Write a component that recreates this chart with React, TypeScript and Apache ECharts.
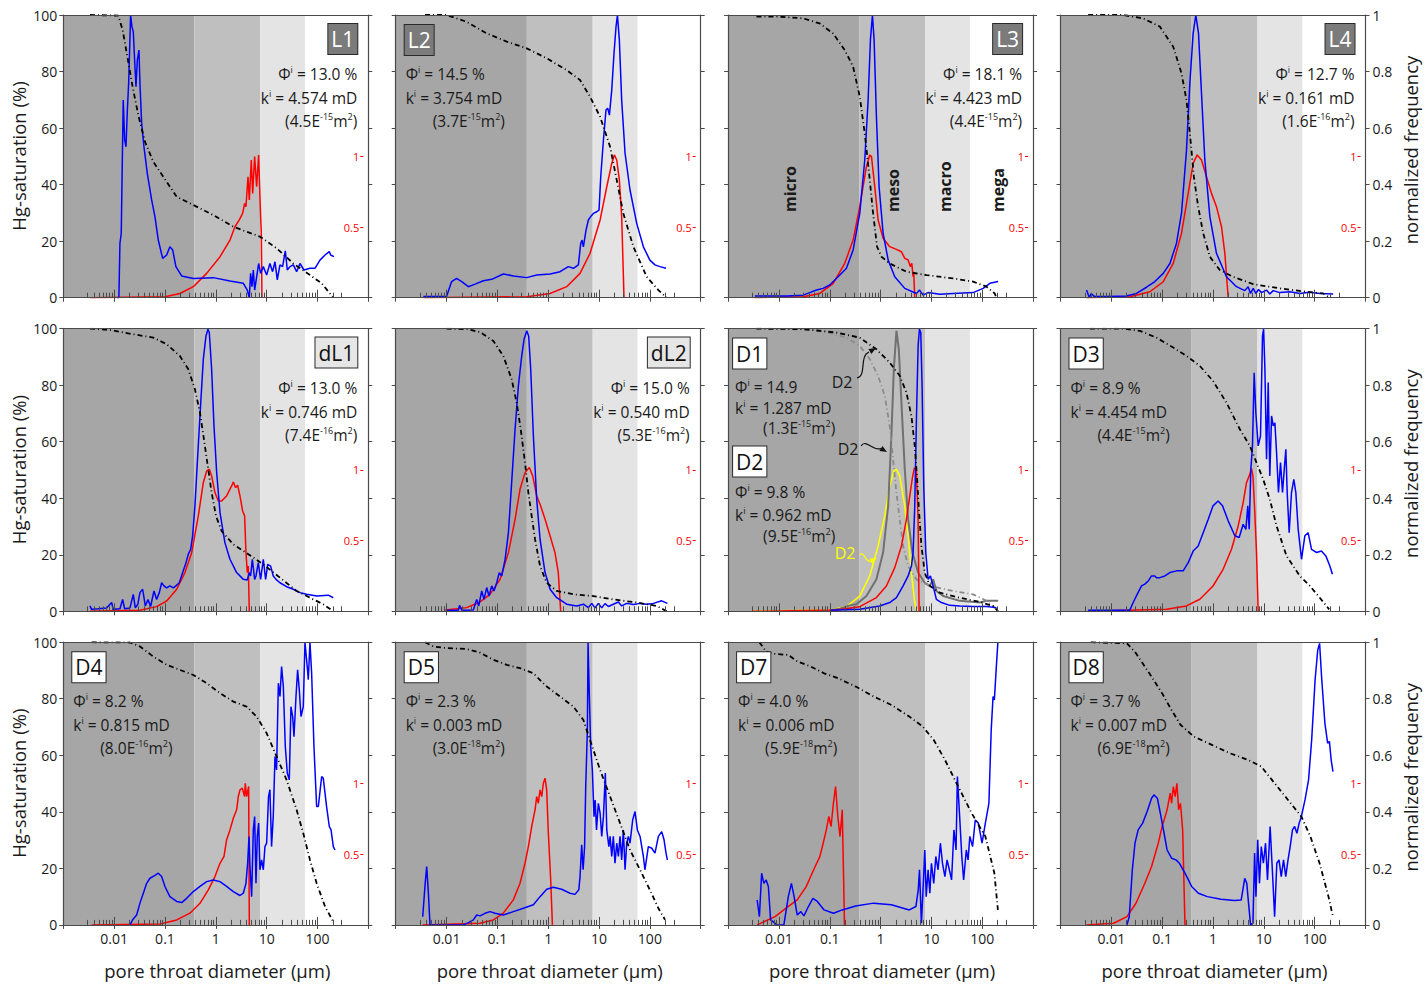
import React, { useEffect, useRef } from 'react';
import * as echarts from 'echarts';

type Pt = [number, number];

const FONT = '"Open Sans", "Noto Sans", "DejaVu Sans", sans-serif';
const AX = '#4a4a4a';
const TXT = '#1a1a1a';

const X_MIN = 0.001;
const X_MAX = 1000;
const X_TICKS = [0.001, 0.01, 0.1, 1, 10, 100, 1000];
const X_LABELS = [0.01, 0.1, 1, 10, 100];
const INNER_MAJOR = [0.01, 0.1, 1, 10, 100];
const INNER_MINOR = [
  0.003, 0.004, 0.005, 0.006, 0.007, 0.008, 0.009,
  0.02, 0.03, 0.04, 0.05, 0.06, 0.07, 0.08, 0.09,
  0.2, 0.3, 0.4, 0.5, 0.6, 0.7, 0.8, 0.9,
  2, 3, 4, 5, 6, 7, 8, 9,
  20, 30, 40, 50, 60, 70, 80, 90,
  200, 300,
];
const RED_TICKS = [0.5, 1];

const BAND_EDGES = [0.001, 0.38, 7.5, 57];
const BAND_COLORS = ['#a6a6a6', '#bfbfbf', '#e4e4e4'];
const ZONE_NAMES = ['micro', 'meso', 'macro', 'mega'];

// ---------- L1 ----------
const L1_HG: Pt[] = [[0.00335,100],[0.0121,99.8],[0.0147,94.7],[0.0182,85.3],[0.0231,74.6],[0.0299,64.6],[0.0404,55.2],[0.0589,48.1],[0.0927,42.8],[0.17,35.7],[0.361,32.8],[0.893,29.2],[2.21,25.1],[7.39,21.6],[15.7,17.5],[33.5,12.1],[71.2,8.0],[121,5.1],[205,0]];
const L1_FREQ: Pt[] = [[0.0115,0],[0.0124,0],[0.013,0.192],[0.0138,0.228],[0.0151,0.699],[0.0161,0.558],[0.0171,0.534],[0.0182,0.664],[0.0193,0.758],[0.0211,1.0],[0.0224,0.959],[0.0238,0.941],[0.0253,0.841],[0.0269,0.746],[0.0286,0.841],[0.0308,0.876],[0.0322,0.758],[0.0348,0.617],[0.0386,0.534],[0.0449,0.44],[0.0547,0.346],[0.0635,0.287],[0.0739,0.204],[0.09,0.139],[0.108,0.151],[0.125,0.18],[0.142,0.169],[0.164,0.11],[0.213,0.077],[0.361,0.068],[0.893,0.071],[1.9,0.059],[3.48,0.051],[4.17,0.027],[4.56,0],[4.84,0.086],[5.14,0.039],[5.47,0.098],[5.81,0.027],[6.36,0.074],[6.96,0.121],[7.62,0.086],[8.6,0.11],[10,0.08],[11.6,0.121],[13.1,0.092],[14.6,0.127],[16.2,0.063],[18.3,0.116],[20.6,0.11],[23.3,0.166],[25.5,0.098],[28.8,0.11],[33.5,0.116],[38.9,0.092],[45.3,0.121],[54.2,0.098],[71.2,0.104],[89.3,0.104],[112,0.133],[141,0.151],[171,0.163],[182,0.151],[211,0.145]];
const L1_RED: Pt[] = [[0.00335,0],[0.1,0.007],[0.197,0.03],[0.361,0.078],[0.661,0.172],[1.21,0.29],[1.9,0.408],[2.38,0.502],[2.9,0.55],[3.37,0.597],[3.69,0.667],[3.92,0.644],[4.3,0.856],[4.56,0.691],[4.99,0.974],[5.31,0.738],[5.81,0.998],[6.36,0.785],[6.96,1.01],[7.28,0.785],[7.62,0.573],[7.86,0.455],[8.09,0]];

// ---------- L2 ----------
const L2_HG: Pt[] = [[0.00378,100],[0.01,100],[0.0249,97.6],[0.0617,93.5],[0.153,90.6],[0.378,88.2],[0.933,84.7],[2.31,80.5],[4.23,77],[6.65,71.1],[10.5,64],[16.5,53.4],[22.3,41.6],[30.1,29.8],[47.4,18],[86.7,7.4],[147,2.7],[214,0]];
const L2_FREQ: Pt[] = [[0.0035,0.004],[0.01,0.004],[0.0126,0.057],[0.0158,0.068],[0.0199,0.057],[0.0269,0.039],[0.0364,0.048],[0.0531,0.06],[0.0774,0.065],[0.131,0.084],[0.206,0.077],[0.378,0.071],[0.594,0.08],[1.09,0.084],[1.71,0.092],[2.49,0.11],[3.13,0.104],[3.92,0.116],[4.36,0.192],[4.63,0.204],[4.92,0.18],[5.55,0.239],[6.17,0.275],[6.85,0.287],[7.74,0.298],[9.0,0.304],[10,0.31],[10.8,0.428],[12.2,0.558],[13.7,0.664],[14.8,0.67],[16.0,0.646],[17.8,0.735],[19.7,0.864],[21.6,0.959],[23.0,1.0],[25.1,0.912],[27.9,0.699],[32.5,0.511],[40.7,0.381],[55.1,0.263],[74.5,0.18],[100,0.133],[126,0.116],[158,0.11],[208,0.104]];
const L2_RED: Pt[] = [[0.0035,0],[0.378,0.007],[1.09,0.03],[2.31,0.078],[4.23,0.172],[6.65,0.314],[10.5,0.55],[14.2,0.785],[17.8,0.95],[20.0,1.01],[22.3,0.974],[25.1,0.833],[27.9,0.573],[31.0,0]];

// ---------- L3 ----------
const L3_HG: Pt[] = [[0.00361,99.4],[0.0104,99.4],[0.0299,98.8],[0.0635,97],[0.116,93.5],[0.197,87.6],[0.288,81.7],[0.389,71.1],[0.488,58.1],[0.594,44],[0.712,29.8],[0.853,18],[1.04,14.5],[1.51,12.1],[3.22,9.2],[7.97,8],[26.7,6.8],[66.1,5.7],[121,3.9],[176,1.5],[190,0]];
const L3_FREQ: Pt[] = [[0.00335,0.006],[0.0141,0.006],[0.0299,0.009],[0.0404,0.018],[0.0547,0.027],[0.0739,0.033],[0.1,0.045],[0.146,0.074],[0.213,0.104],[0.288,0.169],[0.389,0.298],[0.488,0.487],[0.568,0.699],[0.631,0.912],[0.691,1.0],[0.745,0.912],[0.828,0.64],[0.934,0.393],[1.12,0.228],[1.41,0.133],[1.9,0.074],[2.99,0.033],[5.07,0.015],[5.85,0.027],[6.85,0.009],[8.6,0.018],[14.6,0.012],[26.7,0.015],[66.1,0.018],[104,0.033],[141,0.051],[205,0.057]];
const L3_RED: Pt[] = [[0.00335,0],[0.0299,0.007],[0.0635,0.03],[0.116,0.1],[0.197,0.243],[0.288,0.408],[0.389,0.644],[0.526,0.927],[0.612,1.01],[0.662,0.998],[0.768,0.785],[0.893,0.55],[1.12,0.42],[1.51,0.361],[2.05,0.342],[2.57,0.325],[2.99,0.278],[3.48,0.267],[3.86,0.219],[4.11,0.243],[4.36,0.149],[4.49,0.172],[4.7,0]];

// ---------- L4 ----------
const L4_HG: Pt[] = [[0.0035,100],[0.0171,100],[0.0423,98.8],[0.09,95.9],[0.165,88.8],[0.24,79.4],[0.301,69.9],[0.361,55.8],[0.42,42.8],[0.511,32.2],[0.641,22.8],[0.867,14.5],[1.36,9.8],[2.49,7.4],[6.17,4.8],[20.6,3.3],[69,2.1],[147,1.5],[199,0]];
const L4_FREQ: Pt[] = [[0.00325,0.027],[0.0037,0],[0.004,0.015],[0.0047,0.004],[0.0079,0.004],[0.0199,0.006],[0.0313,0.015],[0.0492,0.037],[0.0718,0.057],[0.105,0.086],[0.142,0.121],[0.191,0.192],[0.24,0.298],[0.301,0.522],[0.35,0.758],[0.407,0.935],[0.459,1.0],[0.519,0.935],[0.594,0.723],[0.691,0.487],[0.867,0.287],[1.17,0.157],[1.84,0.074],[2.9,0.039],[4.23,0.025],[4.92,0.039],[5.47,0.015],[6.17,0.033],[6.96,0.015],[7.86,0.029],[9.0,0.018],[11.3,0.027],[13.1,0.013],[15.3,0.025],[20.6,0.018],[32.5,0.021],[51.1,0.015],[80.3,0.019],[126,0.015],[231,0.013]];
const L4_RED: Pt[] = [[0.00325,0],[0.0233,0.007],[0.0572,0.042],[0.105,0.113],[0.165,0.243],[0.24,0.455],[0.325,0.738],[0.407,0.95],[0.488,1.01],[0.594,0.974],[0.745,0.856],[0.934,0.738],[1.17,0.644],[1.47,0.502],[1.71,0.314],[1.99,0]];

// ---------- dL1 ----------
const DL1_HG: Pt[] = [[0.00335,100],[0.00828,99.5],[0.0238,98],[0.0589,96.8],[0.108,94.5],[0.197,90.3],[0.288,85.6],[0.389,78.5],[0.488,70.3],[0.585,60.8],[0.68,52.6],[0.828,42],[1.01,33.7],[1.3,28.4],[2.21,23.7],[4.36,20.2],[8.6,16.6],[18.3,11.9],[38.9,7.2],[82.8,4.2],[130,2.5],[205,0]];
const DL1_FREQ: Pt[] = [[0.00335,0.019],[0.0036,0.007],[0.00488,0.009],[0.0071,0.012],[0.00893,0.031],[0.0096,0.007],[0.013,0.009],[0.0147,0.042],[0.0161,0.009],[0.0205,0.012],[0.0238,0.06],[0.0261,0.012],[0.0293,0.025],[0.0322,0.066],[0.0364,0.078],[0.041,0.019],[0.0463,0.042],[0.0522,0.017],[0.0608,0.072],[0.0686,0.042],[0.0774,0.066],[0.086,0.101],[0.0955,0.09],[0.108,0.083],[0.125,0.09],[0.146,0.083],[0.164,0.09],[0.191,0.101],[0.223,0.137],[0.259,0.172],[0.288,0.202],[0.32,0.219],[0.35,0.267],[0.389,0.373],[0.433,0.526],[0.488,0.691],[0.568,0.892],[0.641,0.974],[0.702,0.998],[0.745,0.986],[0.828,0.856],[0.921,0.656],[1.04,0.491],[1.21,0.349],[1.51,0.243],[1.9,0.184],[2.57,0.137],[3.48,0.113],[4.17,0.111],[4.56,0.137],[4.84,0.125],[5.23,0.184],[5.81,0.113],[6.17,0.125],[6.85,0.172],[7.62,0.113],[8.6,0.184],[9.55,0.113],[10.5,0.166],[12.0,0.16],[13.5,0.125],[15.3,0.113],[18.3,0.101],[24.7,0.087],[33.5,0.078],[45.3,0.066],[61.2,0.06],[96.3,0.054],[163,0.057],[205,0.048]];
const DL1_RED: Pt[] = [[0.00335,0],[0.0322,0.007],[0.0686,0.033],[0.108,0.073],[0.17,0.156],[0.247,0.274],[0.335,0.415],[0.453,0.675],[0.568,0.91],[0.661,0.993],[0.745,1.005],[0.828,0.958],[0.963,0.84],[1.12,0.78],[1.3,0.78],[1.63,0.816],[2.05,0.887],[2.21,0.915],[2.45,0.875],[2.69,0.892],[2.99,0.816],[3.37,0.71],[3.69,0.675],[3.92,0.415],[4.17,0.274],[4.36,0.321],[4.56,0]];

// ---------- dL2 ----------
const DL2_HG: Pt[] = [[0.01,100],[0.0249,99.8],[0.0456,98.8],[0.0834,95.6],[0.131,90.3],[0.191,82.1],[0.24,73.8],[0.288,64.4],[0.35,52.6],[0.407,42],[0.473,33.7],[0.551,25.5],[0.691,16],[0.934,10.1],[1.47,7.2],[3.13,6],[7.74,5.4],[19.1,4.2],[55.1,3.1],[136,1.9],[214,0]];
const DL2_FREQ: Pt[] = [[0.01,0.004],[0.0171,0.004],[0.018,0.021],[0.02,0.004],[0.0337,0.005],[0.0392,0.042],[0.043,0.019],[0.0492,0.072],[0.0546,0.042],[0.0617,0.084],[0.0685,0.054],[0.0774,0.09],[0.0858,0.072],[0.097,0.101],[0.109,0.137],[0.122,0.125],[0.142,0.184],[0.165,0.278],[0.191,0.455],[0.223,0.644],[0.259,0.797],[0.301,0.903],[0.335,0.962],[0.378,0.992],[0.413,0.974],[0.453,0.856],[0.511,0.62],[0.594,0.396],[0.691,0.255],[0.867,0.137],[1.09,0.078],[1.47,0.048],[2.31,0.025],[3.64,0.019],[4.92,0.025],[6.17,0.013],[7.18,0.028],[8.34,0.012],[9.7,0.028],[11.3,0.012],[13.1,0.027],[15.3,0.017],[19.1,0.025],[24,0.033],[27.9,0.019],[35,0.028],[47.4,0.024],[64.1,0.028],[86.7,0.025],[117,0.028],[171,0.037],[221,0.028]];
const DL2_RED: Pt[] = [[0.0094,0.01],[0.0249,0.026],[0.0456,0.066],[0.0718,0.12],[0.113,0.226],[0.165,0.415],[0.223,0.651],[0.279,0.863],[0.35,0.981],[0.426,1.017],[0.495,0.958],[0.594,0.816],[0.712,0.745],[0.867,0.651],[1.09,0.533],[1.36,0.415],[1.58,0.274],[1.76,0]];

// ---------- D1 (and D2 overlay) ----------
const D1_HG: Pt[] = [[0.00361,100],[0.0299,99.8],[0.135,98.6],[0.389,96.8],[0.828,92.7],[1.51,88],[2.38,83.3],[3.22,77.4],[4.04,69.1],[4.7,58.5],[5.23,46.7],[5.72,34.9],[6.36,23.1],[7.39,13.7],[9.27,9],[14.6,6.6],[36.1,4.8],[89.3,3.3],[163,1.9],[205,0]];
const D1_FREQ: Pt[] = [[0.1,0.004],[0.389,0.007],[0.963,0.019],[1.51,0.031],[2.05,0.048],[2.77,0.09],[3.48,0.125],[4.04,0.16],[4.36,0.208],[4.7,0.373],[5.07,0.679],[5.47,0.939],[5.81,0.998],[6.17,0.986],[6.55,0.797],[7.06,0.443],[7.74,0.208],[8.6,0.113],[9.55,0.125],[10.8,0.09],[12.5,0.042],[15.7,0.031],[23,0.021],[36.1,0.019],[66.1,0.017],[121,0.017],[190,0.013]];
const D1_RED: Pt[] = [[0.0031,0],[0.135,0.009],[0.389,0.033],[0.828,0.097],[1.3,0.179],[1.9,0.309],[2.57,0.462],[3.22,0.651],[3.75,0.816],[4.23,0.946],[4.63,1.017],[5.07,0.993],[5.47,0.651],[5.72,0]];
const D2_HG: Pt[] = [[0.00361,100],[0.0635,99.5],[0.213,96.8],[0.389,93.9],[0.612,89.2],[0.893,83.3],[1.21,76.2],[1.51,65.6],[1.76,53.8],[2.05,42],[2.38,32.5],[2.77,23.1],[3.48,16],[5.07,11.3],[9.27,9],[26.7,7.2],[66.1,6],[121,3.7],[190,0.7]];
const D2_FREQ: Pt[] = [[0.1,0.004],[0.157,0.009],[0.247,0.021],[0.335,0.025],[0.526,0.054],[0.828,0.113],[1.12,0.208],[1.41,0.373],[1.63,0.62],[1.82,0.856],[2.05,0.992],[2.28,0.927],[2.57,0.738],[2.99,0.502],[3.48,0.325],[4.23,0.208],[5.47,0.137],[7.39,0.101],[9.27,0.09],[10.8,0.113],[12.5,0.072],[17,0.054],[36.1,0.037],[89.3,0.031],[121,0.037],[205,0.037]];
const D2_RED: Pt[] = [[0.0031,0],[0.1,0.009],[0.213,0.033],[0.389,0.108],[0.612,0.25],[0.893,0.462],[1.21,0.675],[1.51,0.887],[1.82,0.993],[2.05,1.005],[2.38,0.958],[2.99,0.745],[3.48,0.533],[4.04,0.274],[4.7,0.061],[5.23,0]];

// ---------- D3 ----------
const D3_HG: Pt[] = [[0.00378,100],[0.0171,100],[0.0364,99.2],[0.0774,96.8],[0.165,93.3],[0.301,90.3],[0.551,86.8],[1.0,81.5],[1.84,73.8],[3.37,64.4],[5.31,58.5],[7.18,52.6],[9.7,46.7],[13.1,39.6],[17.8,30.2],[27.9,19.6],[51.1,12.5],[80.3,9],[126,4.8],[193,0.7]];
const D3_FREQ: Pt[] = [[0.0035,0.004],[0.0231,0.004],[0.0269,0.031],[0.0322,0.06],[0.0392,0.09],[0.0456,0.096],[0.0531,0.107],[0.0617,0.125],[0.0718,0.125],[0.0774,0.119],[0.09,0.119],[0.113,0.125],[0.142,0.137],[0.191,0.143],[0.259,0.143],[0.325,0.172],[0.407,0.213],[0.511,0.231],[0.641,0.278],[0.803,0.325],[1.0,0.373],[1.26,0.39],[1.54,0.373],[1.99,0.32],[2.69,0.267],[3.27,0.261],[3.92,0.308],[4.43,0.29],[4.84,0.373],[5.15,0.29],[5.55,0.502],[5.98,0.585],[6.45,0.844],[6.96,0.703],[7.74,0.585],[8.6,0.62],[9.41,0.974],[9.9,0.998],[10.5,0.856],[11.3,0.538],[12.2,0.809],[13.1,0.479],[14.2,0.691],[15.3,0.656],[16.5,0.667],[17.8,0.561],[19.4,0.42],[21.3,0.526],[23.3,0.42],[25.5,0.514],[27.1,0.573],[28.8,0.42],[31.5,0.278],[35,0.42],[38.9,0.467],[42.6,0.42],[47.4,0.29],[55.1,0.184],[64.1,0.267],[74.5,0.278],[86.7,0.219],[109,0.208],[136,0.213],[166,0.196],[199,0.16],[224,0.131]];
const D3_RED: Pt[] = [[0.0035,0],[0.122,0.014],[0.301,0.038],[0.551,0.085],[1.0,0.179],[1.58,0.297],[2.31,0.439],[3.13,0.604],[3.92,0.769],[4.56,0.91],[5.15,0.958],[5.72,1.01],[6.1,0.958],[6.55,0.745],[7.18,0.415],[7.74,0]];

// ---------- D4 ----------
const D4_HG: Pt[] = [[0.00361,100],[0.0205,99.9],[0.0322,98.5],[0.0589,94.9],[0.108,92],[0.197,90.2],[0.361,88.4],[0.661,85.5],[1.21,82],[2.21,79],[4.04,77.2],[6.36,73.7],[10,67.8],[15.7,59.6],[24.7,51.3],[38.9,40.7],[52.6,32.4],[71.2,23],[96.3,14.7],[141,6.5],[205,1.1]];
const D4_FREQ: Pt[] = [[0.0205,0],[0.0231,0.018],[0.0277,0.035],[0.0322,0.077],[0.0375,0.112],[0.0436,0.147],[0.0507,0.165],[0.0635,0.175],[0.0739,0.183],[0.086,0.171],[0.1,0.136],[0.125,0.1],[0.17,0.083],[0.213,0.079],[0.267,0.094],[0.361,0.118],[0.488,0.136],[0.661,0.153],[0.893,0.159],[1.21,0.153],[1.63,0.136],[2.21,0.118],[2.99,0.104],[3.48,0.112],[3.92,0.147],[4.23,0.218],[4.5,0.313],[4.7,0.206],[5.07,0.1],[5.47,0.336],[5.81,0.383],[6.17,0.147],[6.55,0.313],[6.96,0.36],[7.39,0.195],[7.97,0.23],[8.6,0.195],[9.27,0.277],[10,0.289],[10.9,0.454],[11.6,0.478],[12.5,0.277],[13.5,0.383],[14.6,0.596],[15.7,0.548],[17,0.855],[18.3,0.808],[19.7,0.914],[21.3,0.843],[23.3,0.631],[25.5,0.537],[27.9,0.513],[30.1,0.772],[32.5,0.737],[34.5,0.666],[37.8,0.808],[40.7,0.902],[43.9,0.831],[47.4,0.737],[52.6,0.772],[56.8,1.0],[61.2,0.937],[66,0.867],[71.2,1.0],[76.8,0.89],[85.3,0.631],[96.3,0.419],[104,0.419],[121,0.525],[130,0.519],[151,0.419],[171,0.348],[185,0.336],[205,0.277],[221,0.265]];
const D4_RED: Pt[] = [[0.00361,0],[0.08,0.007],[0.17,0.035],[0.31,0.083],[0.488,0.153],[0.712,0.248],[0.963,0.342],[1.21,0.436],[1.45,0.484],[1.63,0.601],[1.9,0.672],[2.21,0.755],[2.57,0.814],[2.77,0.908],[2.99,0.955],[3.32,0.967],[3.69,0.908],[3.8,1.002],[4.04,0.908],[4.43,0.979],[4.56,0]];

// ---------- D5 ----------
const D5_HG: Pt[] = [[0.00378,100],[0.0055,98.5],[0.01,97.9],[0.0249,97.6],[0.0456,96.3],[0.0834,93.8],[0.153,92],[0.279,90.8],[0.511,89],[0.934,84.3],[1.71,80.8],[3.13,77.2],[4.92,72.5],[6.65,65.4],[10.5,54.8],[16.5,45.4],[25.9,36],[40.7,26.5],[64.1,19.5],[100,12.4],[147,5.9],[199,1.8]];
const D5_FREQ: Pt[] = [[0.0034,0.029],[0.0038,0.147],[0.00407,0.206],[0.0044,0.112],[0.00473,0],[0.0214,0],[0.027,0.008],[0.0337,0.018],[0.0392,0.035],[0.0456,0.032],[0.0572,0.041],[0.0718,0.047],[0.09,0.041],[0.131,0.035],[0.206,0.047],[0.325,0.059],[0.511,0.071],[0.691,0.1],[0.934,0.126],[1.26,0.133],[1.84,0.126],[2.69,0.112],[3.37,0.108],[4.0,0.124],[4.23,0.171],[4.56,0.283],[4.86,0.195],[5.2,0.277],[5.47,0.489],[5.9,0.69],[6.08,1.0],[6.45,0.808],[6.85,0.631],[7.39,0.548],[7.97,0.383],[8.4,0.442],[8.92,0.336],[9.7,0.43],[10.5,0.395],[11.3,0.313],[12.2,0.383],[13.3,0.537],[14.2,0.336],[15.6,0.277],[16.5,0.313],[17.8,0.242],[19.1,0.313],[20.6,0.218],[22.3,0.289],[24,0.242],[25.9,0.313],[27.9,0.23],[30.1,0.336],[32.5,0.195],[35,0.289],[37.8,0.313],[40.7,0.289],[45.9,0.371],[51.1,0.401],[56.8,0.336],[64.1,0.313],[74.5,0.242],[80,0.195],[93.3,0.277],[109,0.271],[126,0.254],[147,0.313],[171,0.33],[190,0.301],[208,0.254],[221,0.23]];
const D5_RED: Pt[] = [[0.0034,0],[0.0456,0.012],[0.0834,0.035],[0.131,0.083],[0.206,0.177],[0.279,0.295],[0.35,0.436],[0.407,0.554],[0.473,0.696],[0.551,0.814],[0.594,0.908],[0.64,0.861],[0.691,0.955],[0.745,0.908],[0.803,1.002],[0.867,1.038],[0.934,0.955],[1.0,0.672],[1.12,0.318],[1.21,0]];

// ---------- D7 ----------
const D7_HG: Pt[] = [[0.00413,100],[0.0056,96.7],[0.00757,95.9],[0.0153,95.5],[0.0229,93.2],[0.0421,91.4],[0.0773,89],[0.144,87.3],[0.324,84.3],[0.728,80.8],[1.63,77.8],[3.66,73.7],[6.71,70.2],[11.1,65.4],[18.4,58.4],[33.7,48.9],[61.9,39.5],[115,31.3],[173,18.3],[203,5.3]];
const D7_FREQ: Pt[] = [[0.00373,0.088],[0.00413,0.029],[0.00457,0.183],[0.00505,0.147],[0.0056,0.159],[0.0062,0.136],[0.00685,0.018],[0.0092,0],[0.0125,0],[0.0153,0.1],[0.0176,0.147],[0.0199,0.1],[0.0229,0.035],[0.027,0.047],[0.031,0.032],[0.038,0.065],[0.0466,0.094],[0.057,0.083],[0.0773,0.053],[0.118,0.041],[0.176,0.053],[0.324,0.067],[0.728,0.077],[1.63,0.071],[3.66,0.053],[4.95,0.065],[5.5,0.124],[5.82,0.195],[6.35,0.006],[6.98,0.159],[7.4,0.265],[7.89,0.1],[8.6,0.195],[9.3,0.112],[10,0.218],[11.1,0.147],[12.2,0.242],[13.5,0.195],[15,0.289],[16.5,0.218],[18.4,0.171],[20.3,0.23],[22.5,0.195],[24.9,0.159],[27.7,0.336],[30.5,0.265],[32.4,0.525],[35.9,0.383],[39.6,0.242],[43,0.159],[48.5,0.265],[52.5,0.23],[57,0.313],[64.5,0.277],[72.8,0.371],[83.8,0.36],[99,0.289],[115,0.36],[135,0.43],[150,0.69],[163,0.808],[173,0.796],[191,0.926],[203,1.0]];
const D7_RED: Pt[] = [[0.00373,0],[0.0084,0.059],[0.0138,0.118],[0.0229,0.177],[0.0344,0.271],[0.0421,0.342],[0.0516,0.413],[0.0637,0.483],[0.0743,0.578],[0.0855,0.672],[0.0961,0.767],[0.106,0.696],[0.118,0.861],[0.13,0.979],[0.144,0.767],[0.159,0.625],[0.176,0.814],[0.195,0]];

// ---------- D8 ----------
const D8_HG: Pt[] = [[0.00396,100],[0.0203,99.6],[0.0305,96.1],[0.056,89],[0.1,81.9],[0.153,76],[0.229,70.8],[0.421,66.6],[0.946,63.7],[2.16,60.7],[4.85,58.4],[8.91,56],[16.3,50.1],[29.9,44.2],[54.8,38.3],[82.2,31.3],[125,21.8],[187,10],[229,2.9]];
const D8_FREQ: Pt[] = [[0.0203,0],[0.0225,0.029],[0.0259,0.195],[0.0292,0.289],[0.0337,0.336],[0.0413,0.36],[0.0506,0.401],[0.0619,0.448],[0.0687,0.46],[0.0805,0.448],[0.092,0.395],[0.106,0.336],[0.125,0.265],[0.153,0.236],[0.187,0.23],[0.219,0.218],[0.281,0.183],[0.38,0.136],[0.516,0.112],[0.773,0.1],[1.44,0.091],[2.64,0.086],[3.58,0.088],[4.21,0.165],[4.62,0.147],[5.0,0.077],[5.48,0],[6.1,0.006],[6.58,0.254],[7.0,0.1],[7.58,0.301],[8.2,0.147],[8.91,0.277],[9.8,0.218],[10.8,0.289],[11.8,0.159],[13.3,0.348],[14.7,0.195],[16.3,0.029],[18,0.218],[19.9,0.23],[22,0.171],[24.4,0.23],[27,0.171],[29.9,0.23],[33,0.277],[36.6,0.336],[40.4,0.348],[44.7,0.324],[49.5,0.36],[54.8,0.383],[64.5,0.442],[75.8,0.513],[87.3,0.654],[102,0.867],[115,0.973],[125,0.996],[138,0.867],[159,0.713],[180,0.643],[195,0.649],[211,0.584],[229,0.542]];
const D8_RED: Pt[] = [[0.00324,0],[0.0111,0.012],[0.0203,0.059],[0.0305,0.153],[0.0457,0.295],[0.0619,0.413],[0.0838,0.578],[0.1,0.696],[0.125,0.814],[0.144,0.932],[0.153,0.861],[0.166,0.979],[0.18,0.908],[0.195,1.002],[0.211,0.814],[0.229,0.861],[0.253,0.672],[0.281,0]];

// ---------- panel annotations ----------
type Panel = {
  tag: string; tagKind: 'dark' | 'light' | 'white'; side: 'left' | 'right';
  phi: string; k: string; mant: string; exp: string;
  hg: Pt[]; freq: Pt[]; red: Pt[];
};

const PANELS: Panel[] = [
  { tag: 'L1', tagKind: 'dark', side: 'right', phi: '13.0 %', k: '4.574 mD', mant: '4.5', exp: '-15', hg: L1_HG, freq: L1_FREQ, red: L1_RED },
  { tag: 'L2', tagKind: 'dark', side: 'left', phi: '14.5 %', k: '3.754 mD', mant: '3.7', exp: '-15', hg: L2_HG, freq: L2_FREQ, red: L2_RED },
  { tag: 'L3', tagKind: 'dark', side: 'right', phi: '18.1 %', k: '4.423 mD', mant: '4.4', exp: '-15', hg: L3_HG, freq: L3_FREQ, red: L3_RED },
  { tag: 'L4', tagKind: 'dark', side: 'right', phi: '12.7 %', k: '0.161 mD', mant: '1.6', exp: '-16', hg: L4_HG, freq: L4_FREQ, red: L4_RED },
  { tag: 'dL1', tagKind: 'light', side: 'right', phi: '13.0 %', k: '0.746 mD', mant: '7.4', exp: '-16', hg: DL1_HG, freq: DL1_FREQ, red: DL1_RED },
  { tag: 'dL2', tagKind: 'light', side: 'right', phi: '15.0 %', k: '0.540 mD', mant: '5.3', exp: '-16', hg: DL2_HG, freq: DL2_FREQ, red: DL2_RED },
  { tag: 'D1', tagKind: 'white', side: 'left', phi: '14.9', k: '1.287 mD', mant: '1.3', exp: '-15', hg: D1_HG, freq: D1_FREQ, red: D1_RED },
  { tag: 'D3', tagKind: 'white', side: 'left', phi: '8.9 %', k: '4.454 mD', mant: '4.4', exp: '-15', hg: D3_HG, freq: D3_FREQ, red: D3_RED },
  { tag: 'D4', tagKind: 'white', side: 'left', phi: '8.2 %', k: '0.815 mD', mant: '8.0', exp: '-16', hg: D4_HG, freq: D4_FREQ, red: D4_RED },
  { tag: 'D5', tagKind: 'white', side: 'left', phi: '2.3 %', k: '0.003 mD', mant: '3.0', exp: '-18', hg: D5_HG, freq: D5_FREQ, red: D5_RED },
  { tag: 'D7', tagKind: 'white', side: 'left', phi: '4.0 %', k: '0.006 mD', mant: '5.9', exp: '-18', hg: D7_HG, freq: D7_FREQ, red: D7_RED },
  { tag: 'D8', tagKind: 'white', side: 'left', phi: '3.7 %', k: '0.007 mD', mant: '6.9', exp: '-18', hg: D8_HG, freq: D8_FREQ, red: D8_RED },
];
const D2_TEXT = { tag: 'D2', phi: '9.8 %', k: '0.962 mD', mant: '9.5', exp: '-16' };

const COL_L = [63.3, 395.7, 728.1, 1060.5];
const ROW_T = [15, 328.6, 642.2];
const GW = 305;
const GH = 282.7;

const RICH = {
  n: { fontSize: 15.5, fontFamily: FONT, fill: TXT, lineHeight: 18 },
  s: { fontSize: 9, fontFamily: FONT, fill: TXT, verticalAlign: 'top', lineHeight: 10 },
};
const phiStr = (v: string) => `{n|Φ}{s|i}{n| = ${v}}`;
const kStr = (v: string) => `{n|k}{s|i}{n| = ${v}}`;
const permStr = (m: string, e: string) => `{n|(${m}E}{s|${e}}{n|m}{s|2}{n|)}`;

function richText(x: number, y: number, text: string, align: string) {
  return { type: 'text', x, y, silent: true, z: 50, style: { text, rich: RICH, align, verticalAlign: 'middle' } };
}
function tagText(x: number, y: number, text: string, kind: string, align: string) {
  const fill = kind === 'dark' ? '#ffffff' : '#111111';
  const bg = kind === 'dark' ? '#7b7b7b' : kind === 'light' ? '#e6e6e6' : '#ffffff';
  return {
    type: 'text', x, y, silent: true, z: 50,
    style: {
      text, fontSize: 21, fontFamily: FONT, fill, backgroundColor: bg, borderColor: '#2a2a2a', borderWidth: 1,
      padding: [3, 3, 2, 3], lineHeight: 25, align, verticalAlign: 'middle',
    },
  };
}
function plainText(x: number, y: number, text: string, opts: any = {}) {
  return {
    type: 'text', x, y, silent: true, z: 50, rotation: opts.rotation || 0,
    style: {
      text, fontSize: opts.fontSize || 15, fontFamily: FONT, fontWeight: opts.fontWeight || 'normal',
      fill: opts.fill || TXT, align: opts.align || 'center', verticalAlign: 'middle',
    },
  };
}

function buildOption() {
  const grids: any[] = [];
  const xAxes: any[] = [];
  const yAxes: any[] = [];
  const series: any[] = [];
  const graphics: any[] = [];

  const xBase = (gi: number) => ({
    gridIndex: gi, type: 'log', logBase: 10, min: X_MIN, max: X_MAX, z: 10, silent: true,
    splitLine: { show: false }, minorTick: { show: false }, minorSplitLine: { show: false },
    axisPointer: { show: false },
  });

  PANELS.forEach((p, i) => {
    const r = Math.floor(i / 4);
    const c = i % 4;
    const L = COL_L[c];
    const T = ROW_T[r];
    grids.push({ left: L, top: T, width: GW, height: GH, containLabel: false });

    const xb = xAxes.length;
    xAxes.push({
      ...xBase(i), position: 'bottom',
      axisLine: { show: true, onZero: false, lineStyle: { color: AX, width: 1.2 } },
      axisTick: { show: true, inside: false, length: 4, customValues: X_TICKS, lineStyle: { color: AX, width: 1 } },
      axisLabel: {
        show: r === 2, customValues: X_LABELS, margin: 7, fontSize: 14, color: TXT, fontFamily: FONT,
        formatter: (v: number) => String(+Number(v).toPrecision(3)),
      },
    });
    xAxes.push({
      ...xBase(i), position: 'bottom',
      axisLine: { show: false, onZero: false },
      axisTick: { show: true, inside: true, length: 5, customValues: INNER_MINOR, lineStyle: { color: AX, width: 1 } },
      axisLabel: { show: false },
    });
    xAxes.push({
      ...xBase(i), position: 'bottom',
      axisLine: { show: false, onZero: false },
      axisTick: { show: true, inside: true, length: 8, customValues: INNER_MAJOR, lineStyle: { color: AX, width: 1 } },
      axisLabel: { show: false },
    });
    xAxes.push({
      ...xBase(i), position: 'top',
      axisLine: { show: true, onZero: false, lineStyle: { color: AX, width: 1 } },
      axisTick: { show: false }, axisLabel: { show: false },
    });

    const yl = yAxes.length;
    yAxes.push({
      gridIndex: i, type: 'value', min: 0, max: 100, interval: 20, position: 'left', z: 10, silent: true,
      axisLine: { show: true, onZero: false, lineStyle: { color: AX, width: 1.2 } },
      axisTick: { show: true, length: 4, lineStyle: { color: AX } },
      axisLabel: { show: c === 0, fontSize: 14, color: TXT, fontFamily: FONT, margin: 6 },
      splitLine: { show: false },
    });
    yAxes.push({
      gridIndex: i, type: 'value', min: 0, max: 1, interval: 0.2, position: 'right', z: 10, silent: true,
      axisLine: { show: true, onZero: false, lineStyle: { color: AX, width: 1.2 } },
      axisTick: { show: true, length: 4, lineStyle: { color: AX } },
      axisLabel: {
        show: c === 3, fontSize: 14, color: TXT, fontFamily: FONT, margin: 7,
        formatter: (v: number) => String(+Number(v).toFixed(1)),
      },
      splitLine: { show: false },
    });
    yAxes.push({
      gridIndex: i, type: 'value', min: 0, max: 2, interval: 0.5, position: 'right', offset: -5, z: 10, silent: true,
      axisLine: { show: false, onZero: false },
      axisTick: { show: true, inside: true, length: 3, customValues: RED_TICKS, lineStyle: { color: '#ff0000' } },
      axisLabel: {
        show: true, inside: true, customValues: RED_TICKS, fontSize: 11, color: '#ff0000', fontFamily: FONT, margin: 4,
        formatter: (v: number) => String(+Number(v).toFixed(1)),
      },
      splitLine: { show: false },
    });

    series.push({
      type: 'line', xAxisIndex: xb, yAxisIndex: yl, data: [[X_MIN, 0], [X_MAX, 0]], symbol: 'none', silent: true,
      lineStyle: { width: 0, opacity: 0 }, z: 1,
      markArea: {
        silent: true,
        data: BAND_COLORS.map((col, k) => [
          { xAxis: BAND_EDGES[k], itemStyle: { color: col, opacity: 1 } },
          { xAxis: BAND_EDGES[k + 1] },
        ]),
      },
    });

    if (p.tag === 'D1') {
      series.push({ type: 'line', xAxisIndex: xb, yAxisIndex: yl + 2, data: D2_RED, symbol: 'none', silent: true, z: 3,
        lineStyle: { color: '#ffff00', width: 1.6 } });
      series.push({ type: 'line', xAxisIndex: xb, yAxisIndex: yl + 1, data: D2_FREQ, symbol: 'none', silent: true, z: 3,
        lineStyle: { color: '#707070', width: 2 } });
      series.push({ type: 'line', xAxisIndex: xb, yAxisIndex: yl, data: D2_HG, symbol: 'none', silent: true, z: 3,
        lineStyle: { color: '#8a8a8a', width: 1.8, type: [5, 3, 1, 3] } });
    }
    series.push({ type: 'line', xAxisIndex: xb, yAxisIndex: yl + 2, data: p.red, symbol: 'none', silent: true, z: 4,
      lineStyle: { color: '#ff0000', width: 1.5 } });
    series.push({ type: 'line', xAxisIndex: xb, yAxisIndex: yl + 1, data: p.freq, symbol: 'none', silent: true, z: 5,
      lineStyle: { color: '#0000ff', width: 1.5 } });
    series.push({ type: 'line', xAxisIndex: xb, yAxisIndex: yl, data: p.hg, symbol: 'none', silent: true, z: 6,
      lineStyle: { color: '#000000', width: 1.8, type: [5, 3, 1, 3] } });

    // annotations
    if (p.tag === 'D1') {
      graphics.push(tagText(L + 5, T + 25, 'D1', 'white', 'left'));
      graphics.push(richText(L + 7, T + 58, phiStr(p.phi), 'left'));
      graphics.push(richText(L + 7, T + 79, kStr(p.k), 'left'));
      graphics.push(richText(L + 35, T + 99, permStr(p.mant, p.exp), 'left'));
      graphics.push(tagText(L + 5, T + 133, D2_TEXT.tag, 'white', 'left'));
      graphics.push(richText(L + 7, T + 163, phiStr(D2_TEXT.phi), 'left'));
      graphics.push(richText(L + 7, T + 186, kStr(D2_TEXT.k), 'left'));
      graphics.push(richText(L + 35, T + 207, permStr(D2_TEXT.mant, D2_TEXT.exp), 'left'));
      // D2 pointers
      graphics.push(plainText(842, 382, 'D2', { fontSize: 16 }));
      graphics.push({ type: 'bezierCurve', silent: true, z: 50, shape: { x1: 857, y1: 378, cpx1: 867, cpy1: 376, cpx2: 859, cpy2: 356, x2: 869, y2: 352 }, style: { stroke: '#111', lineWidth: 1.2, fill: 'none' } });
      graphics.push({ type: 'polygon', silent: true, z: 50, shape: { points: [[876, 348], [871.4, 354.1], [868.4, 348.9]] }, style: { fill: '#111' } });
      graphics.push(plainText(848, 449, 'D2', { fontSize: 16 }));
      graphics.push({ type: 'bezierCurve', silent: true, z: 50, shape: { x1: 861, y1: 446, cpx1: 866, cpy1: 438, cpx2: 873, cpy2: 452, x2: 881, y2: 448.5 }, style: { stroke: '#111', lineWidth: 1.2, fill: 'none' } });
      graphics.push({ type: 'polygon', silent: true, z: 50, shape: { points: [[887, 452], [879.4, 451.1], [882.4, 445.9]] }, style: { fill: '#111' } });
      graphics.push(plainText(845, 553, 'D2', { fontSize: 16, fill: '#ffff00' }));
      graphics.push({ type: 'bezierCurve', silent: true, z: 50, shape: { x1: 860, y1: 555, cpx1: 864, cpy1: 550, cpx2: 866, cpy2: 564, x2: 871, y2: 561 }, style: { stroke: '#ffff00', lineWidth: 1.2, fill: 'none' } });
      graphics.push({ type: 'polygon', silent: true, z: 50, shape: { points: [[877, 558], [872.1, 563.8], [869.4, 558.4]] }, style: { fill: '#ffff00' } });
    } else if (p.side === 'right') {
      const xr = L + 294;
      graphics.push(tagText(xr, T + 24, p.tag, p.tagKind, 'right'));
      graphics.push(richText(xr, T + 59, phiStr(p.phi), 'right'));
      graphics.push(richText(xr, T + 83, kStr(p.k), 'right'));
      graphics.push(richText(xr, T + 106, permStr(p.mant, p.exp), 'right'));
    } else {
      graphics.push(tagText(L + 9, T + 25, p.tag, p.tagKind, 'left'));
      graphics.push(richText(L + 10, T + 59, phiStr(p.phi), 'left'));
      graphics.push(richText(L + 10, T + 83, kStr(p.k), 'left'));
      graphics.push(richText(L + 37, T + 106, permStr(p.mant, p.exp), 'left'));
    }

    if (p.tag === 'L3') {
      const zx = [62, 165, 217, 270];
      ZONE_NAMES.forEach((nm, k) => {
        graphics.push(plainText(L + zx[k], T + 197, nm, { fontSize: 16, fontWeight: 'bold', align: 'left', rotation: Math.PI / 2 }));
      });
    }

    if (c === 0) {
      graphics.push(plainText(18, T + 141, 'Hg-saturation (%)', { fontSize: 18.5, rotation: Math.PI / 2 }));
    }
    if (c === 3) {
      graphics.push(plainText(1410, T + 135, 'normalized frequency', { fontSize: 18.5, rotation: Math.PI / 2 }));
    }
    if (r === 2) {
      graphics.push(plainText(L + 154, 970, 'pore throat diameter (µm)', { fontSize: 18.5 }));
    }
  });

  return {
    animation: false,
    backgroundColor: '#ffffff',
    grid: grids,
    xAxis: xAxes,
    yAxis: yAxes,
    series,
    graphic: { elements: graphics },
  };
}

export default function App() {
  const ref = useRef<HTMLDivElement>(null);
  useEffect(() => {
    if (!ref.current) return;
    const chart = echarts.init(ref.current, null, { renderer: 'svg' });
    chart.setOption(buildOption() as any);
    return () => chart.dispose();
  }, []);
  return <div ref={ref} style={{ position: 'absolute', left: 0, top: 0, width: 1427, height: 991 }} />;
}
